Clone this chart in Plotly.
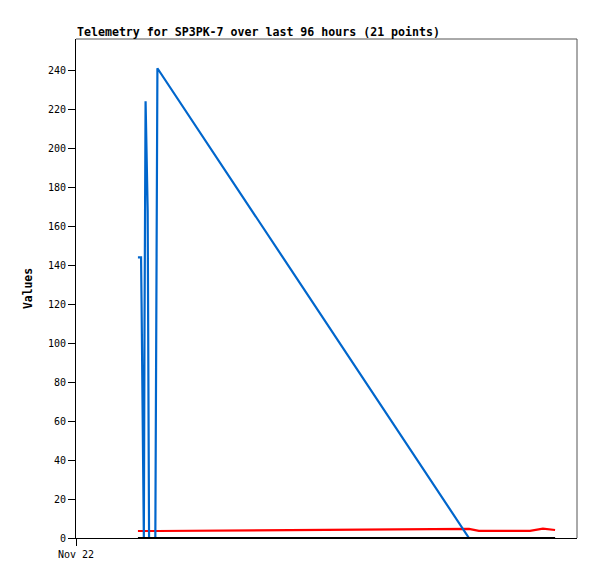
import plotly.graph_objects as go

# sample times (Nov 22) and the three telemetry channels
times = [
    "2023-11-22 02:58", "2023-11-22 03:07", "2023-11-22 03:08:30", "2023-11-22 03:11",
    "2023-11-22 03:13", "2023-11-22 03:15", "2023-11-22 03:17", "2023-11-22 03:20",
    "2023-11-22 03:26", "2023-11-22 03:28", "2023-11-22 03:30", "2023-11-22 03:48",
    "2023-11-22 03:49:30", "2023-11-22 03:52", "2023-11-22 03:54", "2023-11-22 18:49:30",
    "2023-11-22 19:18", "2023-11-22 20:33", "2023-11-22 21:45", "2023-11-22 22:22",
    "2023-11-22 22:57",
]
blue_vals = [144, 144, 120, 72, 24, 0, 112, 224, 168, 56, 0, 0, 60, 180, 241,
             0, 0, 0, 0, 0, 0]
red_vals = [3.6, 3.6, 3.6, 3.6, 3.6, 3.6, 3.6, 3.6, 3.6, 3.6, 3.6, 3.6, 3.6, 3.6, 3.6,
            4.7, 3.7, 3.7, 3.7, 4.8, 4.1]
black_vals = [0] * 21

x_start = "2023-11-22 00:00"
x_end = "2023-11-23 00:00"

mono = "DejaVu Sans Mono"
# page body has an 8px margin, so the figure is a bit smaller than the window
W, H = 589, 571

fig = go.Figure()
fig.add_trace(go.Scatter(x=times, y=red_vals, mode="lines",
                         line=dict(color="#ff0000", width=2.2)))
fig.add_trace(go.Scatter(x=times, y=blue_vals, mode="lines",
                         line=dict(color="#0066cc", width=2.2)))
fig.add_trace(go.Scatter(x=times, y=black_vals, mode="lines",
                         line=dict(color="#000000", width=2.2)))

fig.update_layout(
    width=W, height=H,
    margin=dict(l=68, r=20, t=31, b=41),
    paper_bgcolor="white", plot_bgcolor="white",
    showlegend=False,
    title=dict(text="<b>Telemetry for SP3PK-7 over last 96 hours (21 points)</b>",
               font=dict(family=mono, size=11.6, color="black"),
               x=69 / W, xanchor="left", xref="container",
               y=1 - 23.5 / H, yanchor="middle", yref="container"),
    font=dict(family=mono, size=10, color="black"),
)
fig.update_xaxes(range=[x_start, x_end], showgrid=False, zeroline=False,
                 automargin=False,
                 showline=True, linecolor="black", linewidth=1,
                 ticks="outside", ticklen=7, tickcolor="black",
                 tickvals=[x_start], ticktext=["Nov 22"],
                 tickfont=dict(family=mono, size=10))
fig.update_yaxes(range=[0, 256], showgrid=False, zeroline=False,
                 automargin=False,
                 showline=True, linecolor="black", linewidth=1,
                 ticks="outside", ticklen=7, tickcolor="black",
                 tickvals=list(range(0, 241, 20)),
                 tickfont=dict(family=mono, size=10),
                 title=dict(text="<b>Values</b>", font=dict(family=mono, size=11.4),
                            standoff=12))
# grey frame on top and right
fig.add_shape(type="line", xref="paper", yref="paper", x0=0, x1=1, y0=1, y1=1,
              line=dict(color="#555555", width=1))
fig.add_shape(type="line", xref="paper", yref="paper", x0=1, x1=1, y0=0, y1=1,
              line=dict(color="#555555", width=1))

fig.write_html("out.html")
